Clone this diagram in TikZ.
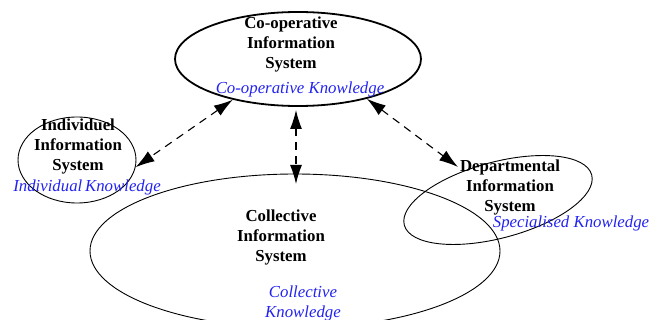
\documentclass[tikz,border=0pt]{standalone}
\usepackage{fontspec}
\setmainfont{Liberation Serif}
\usetikzlibrary{shapes.geometric}
\usetikzlibrary{arrows.meta}
\definecolor{knowblue}{RGB}{35,35,240}

\begin{document}
\begin{tikzpicture}[x=1pt,y=-1pt,
    sysellipse/.style={draw,ellipse,inner sep=0pt,line width=0.9pt},
    systitle/.style={align=center,font=\fontsize{16.8}{20}\selectfont\bfseries},
    knowtext/.style={align=center,text=knowblue,font=\fontsize{16.8}{20}\selectfont\itshape},
    linkarrow/.style={{Latex[length=19pt,width=12pt]}-{Latex[length=19pt,width=12pt]},dash pattern=on 8pt off 6pt,line width=1.1pt}]
                    \useasboundingbox (0,0) rectangle (659,320);
                    % the four systems
                    \draw (298,59) node[sysellipse,line width=1.8pt,minimum width=246pt,minimum height=94pt,name=coop] {};
                    \draw (77,160) node[sysellipse,minimum width=118pt,minimum height=86pt,name=indiv] {};
                    \draw (295,251) node[sysellipse,minimum width=410pt,minimum height=154pt,name=coll] {};
                    \draw (498,200) node[sysellipse,rotate=15,minimum width=194pt,minimum height=76pt,name=dept] {};
                    % titles and knowledge
                    \draw (291,44) node[systitle,name=cooptitle] {Co-operative\\Information\\System};
                    \draw (300,89) node[knowtext,name=coopknow] {Co-operative Knowledge};
                    \draw (78,146) node[systitle,name=indivtitle] {Individuel\\Information\\System};
                    \draw (87,187) node[knowtext,name=indivknow] {Individual\,Knowledge};
                    \draw (281,237) node[systitle,name=colltitle] {Collective\\Information\\System};
                    \draw (303,303) node[knowtext,name=collknow] {Collective\\Knowledge};
                    \draw (510,187) node[systitle,name=depttitle] {Departmental\\Information\\System};
                    \draw (571,223) node[knowtext,name=deptknow] {Specialised Knowledge};
                    \coordinate (cooplow) at (296,110);
                    \coordinate (colltip) at (296,184);
                    \coordinate (depttip) at (458,167);
                    \draw[linkarrow] (coop.212) -- (indiv.-7);
                    \draw[linkarrow] (cooplow) -- (colltip);
                    \draw[linkarrow] (coop.-30) -- (depttip);
                \end{tikzpicture}
\end{document}
